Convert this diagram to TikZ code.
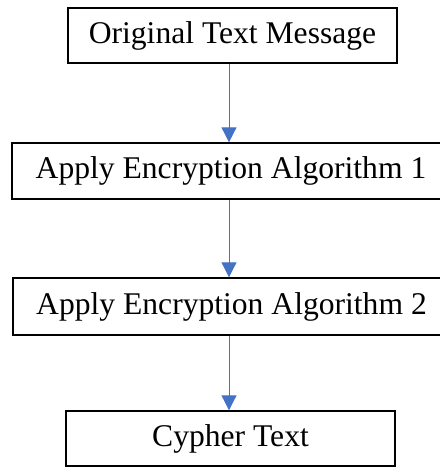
\documentclass[tikz,border=0pt]{standalone}
\usepackage{fontspec}
\setmainfont{Liberation Serif}
\usetikzlibrary{positioning, arrows.meta}
\definecolor{Office-1}{RGB}{68,114,196}

\begin{document}
\begin{tikzpicture}[x=1pt, y=-1pt]
      \tikzset{ stp/.style ={draw=black, line width=1.4pt, inner sep=0pt, font=\fontsize{31.6}{38}\selectfont} }
      \tikzset{ flw/.style ={draw=Office-1, line width=1pt, -{Triangle[width=15pt, length=15pt]}} }

      \useasboundingbox (0,0) rectangle (440,467);

      \node[stp, minimum width=329pt, minimum height=55pt] (msg)  at (232.5, 35.5) {Original Text Message};
      \node[stp, minimum width=438pt, minimum height=56pt] (alg1) at (231.0,171.0) {Apply Encryption Algorithm 1};
      \node[stp, minimum width=437pt, minimum height=57pt] (alg2) at (231.5,306.5) {Apply Encryption Algorithm 2};
      \node[stp, minimum width=329pt, minimum height=55pt] (cyph) at (230.5,438.5) {Cypher Text};

      \coordinate (ax) at (229,0);

      \draw[flw] (msg.south -| ax)  -- (alg1.north -| ax);
      \draw[flw] (alg1.south -| ax) -- (alg2.north -| ax);
      \draw[flw] (alg2.south -| ax) -- (cyph.north -| ax);
    \end{tikzpicture}
\end{document}
